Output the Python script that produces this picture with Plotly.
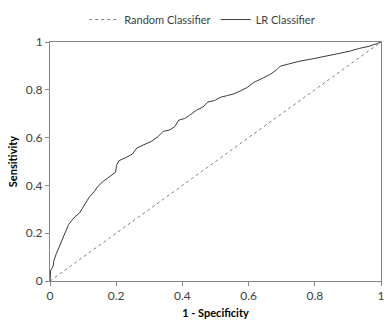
import plotly.graph_objects as go

# ROC curve of the logistic regression classifier (1 - specificity, sensitivity)
fpr = [0.0, 0.002, 0.009, 0.012, 0.019, 0.029, 0.039, 0.049, 0.056, 0.064,
       0.076, 0.089, 0.099, 0.106, 0.119, 0.133, 0.143, 0.158, 0.173, 0.184,
       0.198, 0.201, 0.208, 0.228, 0.248, 0.263, 0.283, 0.307, 0.327, 0.342,
       0.362, 0.377, 0.389, 0.407, 0.422, 0.442, 0.462, 0.477, 0.497, 0.516,
       0.536, 0.556, 0.576, 0.596, 0.616, 0.626, 0.646, 0.666, 0.686, 0.696,
       0.725, 0.755, 0.795, 0.835, 0.875, 0.904, 0.934, 0.964, 0.989, 1.0]
tpr = [0.0, 0.045, 0.059, 0.086, 0.114, 0.148, 0.182, 0.209, 0.236, 0.250,
       0.270, 0.284, 0.305, 0.325, 0.352, 0.373, 0.393, 0.414, 0.430, 0.443,
       0.455, 0.484, 0.503, 0.516, 0.530, 0.557, 0.571, 0.585, 0.605, 0.626,
       0.632, 0.646, 0.673, 0.680, 0.694, 0.714, 0.728, 0.749, 0.755, 0.769,
       0.776, 0.783, 0.796, 0.810, 0.831, 0.837, 0.851, 0.865, 0.885, 0.899,
       0.909, 0.920, 0.930, 0.941, 0.952, 0.961, 0.973, 0.982, 0.994, 1.0]

# Diagonal reference of a random classifier
random_x = [0.0, 1.0]
random_y = [0.0, 1.0]

tick_vals = [0, 0.2, 0.4, 0.6, 0.8, 1]
tick_text = ["0", "0.2", "0.4", "0.6", "0.8", "1"]

FONT = "Lato, 'Open Sans', sans-serif"
TEXT = "#404040"
AXIS = "#868686"

fig = go.Figure()
fig.add_trace(go.Scatter(
    x=random_x, y=random_y, mode="lines", name="Random Classifier",
    line=dict(color="#808080", width=1, dash="dot"),
))
fig.add_trace(go.Scatter(
    x=fpr, y=tpr, mode="lines", name="LR Classifier",
    line=dict(color="#3a3a3a", width=1),
))

axis_common = dict(
    range=[0, 1], tickvals=tick_vals, ticktext=tick_text,
    showgrid=False, zeroline=False,
    showline=True, linecolor=AXIS, linewidth=1, mirror=True,
    ticks="outside", ticklen=4, tickcolor=AXIS, tickwidth=1,
    tickfont=dict(family=FONT, size=12, color=TEXT),
)

fig.update_xaxes(
    **axis_common,
    title=dict(text="<b>1 - Specificity</b>", standoff=6,
               font=dict(family=FONT, size=11, color="#000000")),
)
fig.update_yaxes(
    **axis_common,
    title=dict(text="<b>Sensitivity</b>", standoff=5,
               font=dict(family=FONT, size=11, color="#000000")),
)

fig.update_layout(
    width=390, height=326,
    margin=dict(l=50, r=5, t=37, b=45),
    paper_bgcolor="white", plot_bgcolor="white",
    font=dict(family=FONT, size=11, color=TEXT),
    showlegend=True,
    legend=dict(
        orientation="h", x=0.46, xanchor="center", y=1.094, yanchor="middle",
        itemwidth=30, font=dict(family=FONT, size=11, color=TEXT),
        bgcolor="rgba(0,0,0,0)", tracegroupgap=0,
    ),
)

fig.write_html("out.html")
